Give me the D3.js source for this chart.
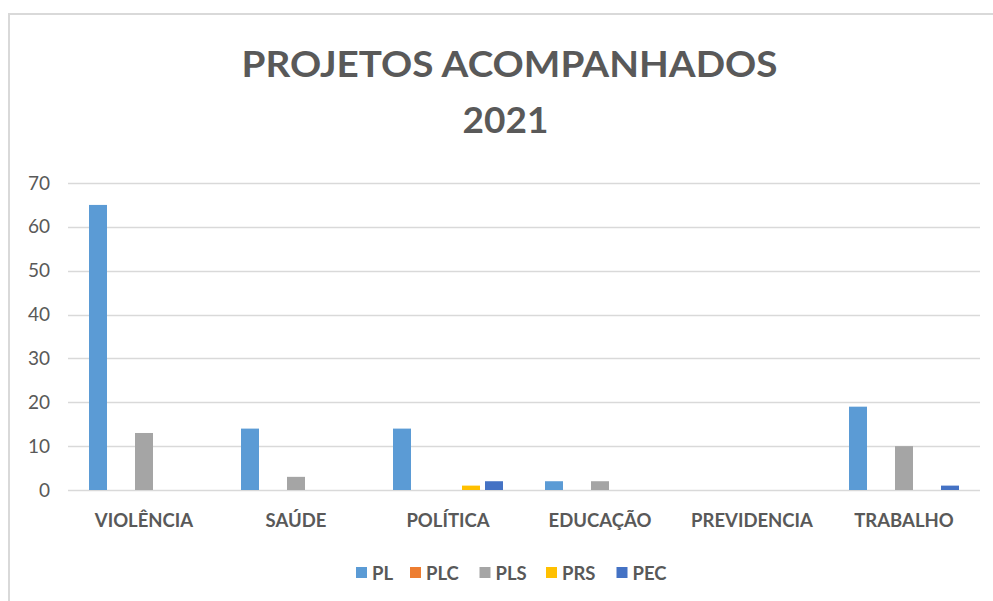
<!DOCTYPE html>
<html>
<head>
<meta charset="utf-8">
<script src="https://cdn.jsdelivr.net/npm/d3@7"></script>
<style>
  html, body { margin: 0; padding: 0; background: #fff; }
  svg { display: block; }
  text { font-family: Lato, "Open Sans", sans-serif; }
</style>
</head>
<body>
<svg id="chart" width="993" height="601"></svg>
<script>
const titleLines = ["PROJETOS ACOMPANHADOS", "2021"];
const categories = ["VIOLÊNCIA", "SAÚDE", "POLÍTICA", "EDUCAÇÃO", "PREVIDENCIA", "TRABALHO"];
const seriesNames = ["PL", "PLC", "PLS", "PRS", "PEC"];
const seriesColors = ["#5B9BD5", "#ED7D31", "#A5A5A5", "#FFC000", "#4472C4"];
const PL  = [65, 14, 14, 2, 0, 19];
const PLC = [0, 0, 0, 0, 0, 0];
const PLS = [13, 3, 0, 2, 0, 10];
const PRS = [0, 0, 1, 0, 0, 0];
const PEC = [0, 0, 2, 0, 0, 1];
const yTicks = [0, 10, 20, 30, 40, 50, 60, 70];

const seriesValues = [PL, PLC, PLS, PRS, PEC];
const textColor = "#595959";

const svg = d3.select("#chart");

// chart frame
svg.append("path")
  .attr("d", "M9,601 V14 H993")
  .attr("fill", "none")
  .attr("stroke", "#D9D9D9")
  .attr("stroke-width", 2);

// plot geometry
const plotLeft = 68, plotRight = 980, plotTop = 183, plotBottom = 490;

const x = d3.scaleBand().domain(categories).range([plotLeft, plotRight]).padding(0);
const x1 = d3.scaleBand().domain(seriesNames)
  .range([21, x.bandwidth() - 21])
  .paddingInner(5 / 23).paddingOuter(0);
const y = d3.scaleLinear().domain([0, 70]).range([plotBottom, plotTop]);

// gridlines
svg.append("g")
  .selectAll("line")
  .data(yTicks)
  .join("line")
  .attr("x1", plotLeft).attr("x2", plotRight)
  .attr("y1", d => Math.round(y(d)) + 0.5)
  .attr("y2", d => Math.round(y(d)) + 0.5)
  .attr("stroke", "#D9D9D9")
  .attr("stroke-width", 1.3);

// y axis labels
const yAxis = d3.axisLeft(y).tickValues(yTicks).tickSize(0).tickPadding(0);
const gy = svg.append("g").attr("transform", `translate(50,0)`).call(yAxis);
gy.select(".domain").remove();
gy.selectAll("text")
  .attr("fill", textColor)
  .attr("font-size", 19)
  .style("font-family", "Lato, 'Open Sans', sans-serif");

// bars
const data = [];
categories.forEach((c, i) => {
  seriesNames.forEach((s, j) => {
    data.push({ cat: c, series: s, value: seriesValues[j][i], color: seriesColors[j] });
  });
});

svg.append("g")
  .selectAll("rect")
  .data(data.filter(d => d.value > 0))
  .join("rect")
  .attr("x", d => x(d.cat) + x1(d.series))
  .attr("width", x1.bandwidth())
  .attr("y", d => y(d.value))
  .attr("height", d => y(0) - y(d.value))
  .attr("fill", d => d.color);

// x axis labels
const xAxis = d3.axisBottom(x).tickSize(0).tickPadding(0);
const gx = svg.append("g").attr("transform", `translate(0,${plotBottom})`).call(xAxis);
gx.select(".domain").remove();
gx.selectAll("text")
  .attr("y", 36.5)
  .attr("dy", 0)
  .attr("fill", textColor)
  .attr("font-size", 18.5)
  .attr("font-weight", "bold")
  .style("font-family", "Lato, 'Open Sans', sans-serif");

// title
const title = svg.append("g");
title.append("text")
  .attr("x", 509.5).attr("y", 76.7)
  .attr("text-anchor", "middle")
  .attr("font-size", 37)
  .attr("font-weight", "bold")
  .attr("fill", textColor)
  .attr("textLength", 536)
  .attr("lengthAdjust", "spacingAndGlyphs")
  .text(titleLines[0]);
title.append("text")
  .attr("x", 505.5).attr("y", 133.3)
  .attr("text-anchor", "middle")
  .attr("font-size", 37)
  .attr("font-weight", "bold")
  .attr("fill", textColor)
  .text(titleLines[1]);

// legend
const legendX = [356, 410, 479.5, 546, 616.5];
const legend = svg.append("g");
seriesNames.forEach((s, j) => {
  const g = legend.append("g").attr("transform", `translate(${legendX[j]},567)`);
  g.append("rect").attr("width", 11).attr("height", 11).attr("fill", seriesColors[j]);
  g.append("text")
    .attr("x", 16).attr("y", 13)
    .attr("font-size", 18.5)
    .attr("font-weight", "bold")
    .attr("fill", textColor)
    .text(s);
});
</script>
</body>
</html>
